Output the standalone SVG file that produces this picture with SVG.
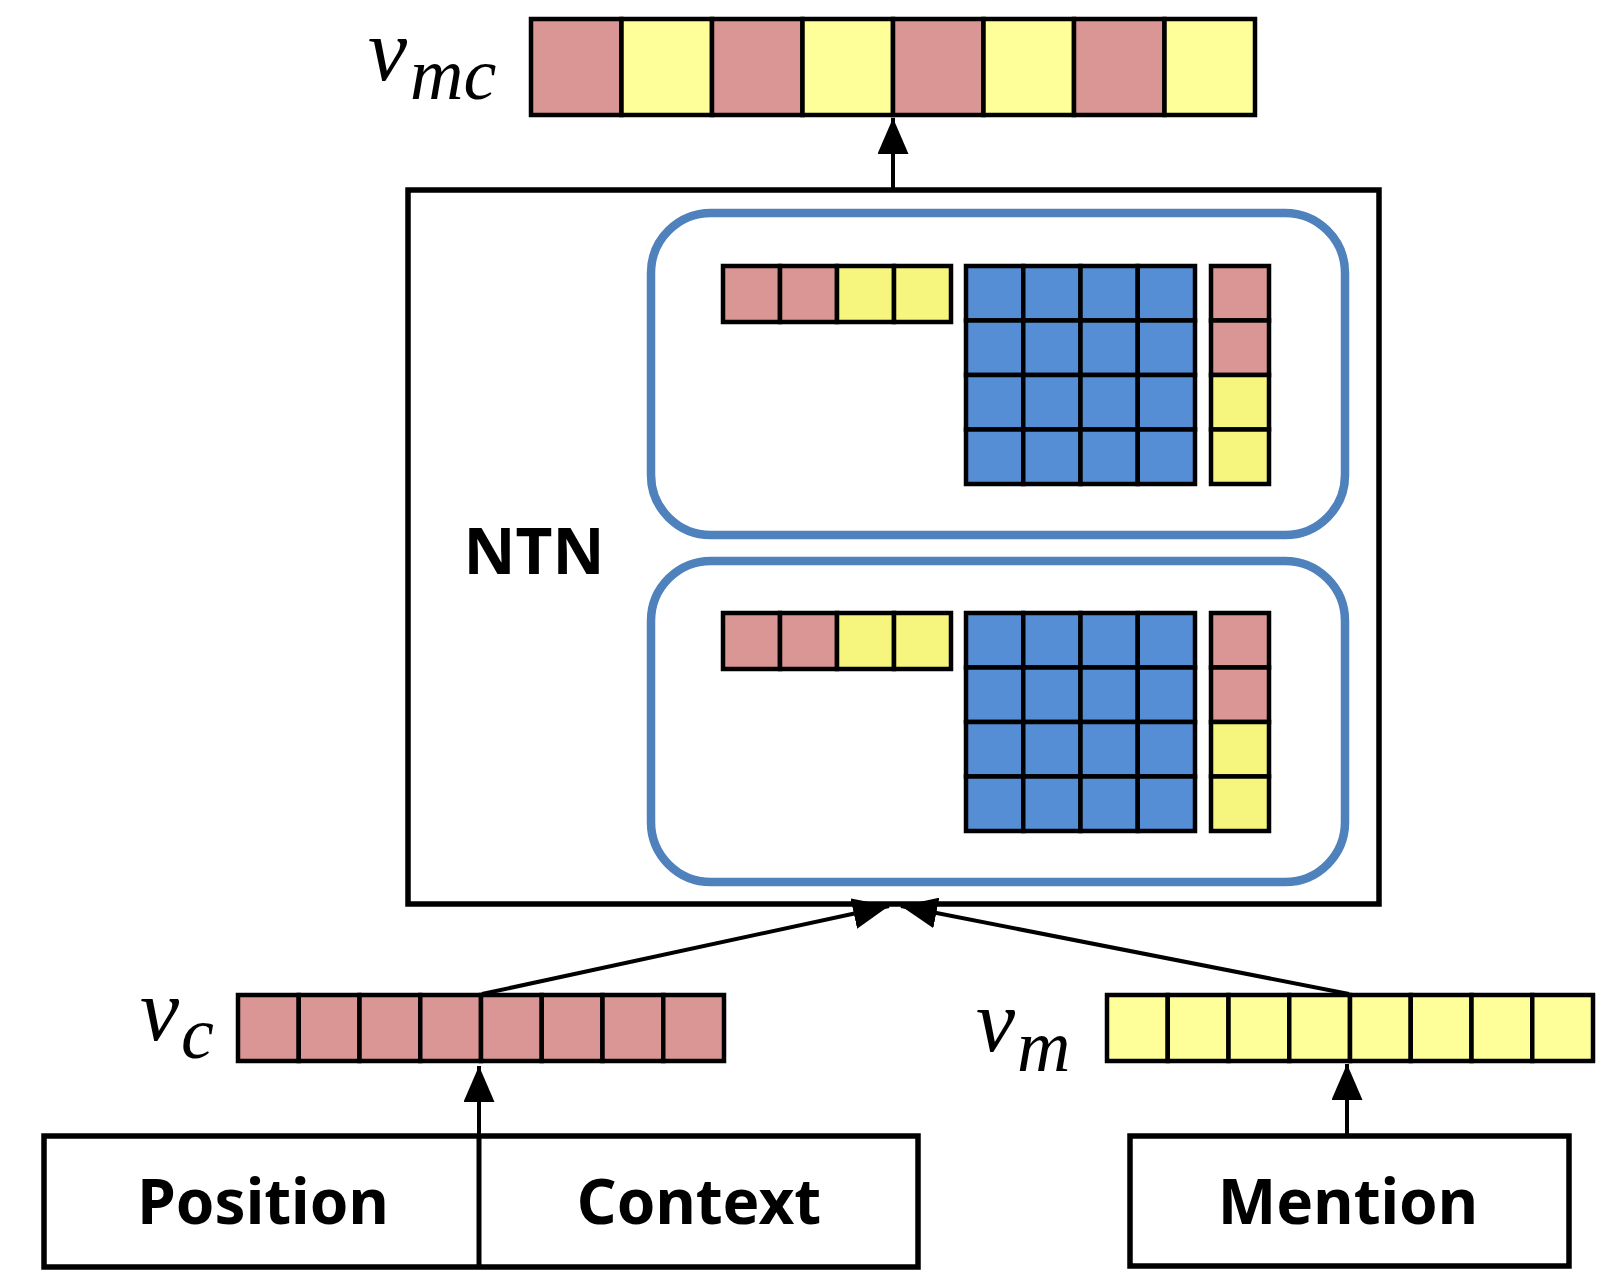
<svg xmlns="http://www.w3.org/2000/svg" width="1600" height="1271" viewBox="0 0 1600 1271">
  <style>
    .pk { fill: #DA9694; stroke: #000; stroke-width: 4.5; }
    .yl { fill: #FFFF99; stroke: #000; stroke-width: 4.5; }
    .yl2 { fill: #F6F57D; stroke: #000; stroke-width: 4.5; }
    .bl { fill: #558ED5; stroke: #000; stroke-width: 4.5; }
    .box { fill: #fff; stroke: #000; stroke-width: 5.5; }
    .group { fill: none; stroke: #4F81BD; stroke-width: 8.5; }
    .lbl { font-family: "Noto Sans", "Liberation Sans", sans-serif; font-weight: 700; fill: #000; text-anchor: middle; }
    .math { font-family: "Liberation Serif", "DejaVu Serif", serif; font-style: italic; fill: #000; }
    .edge { fill: none; stroke: #000; stroke-width: 4; }
  </style>
  <defs>
    <marker id="head" viewBox="0 0 10 10" refX="10" refY="5" markerUnits="userSpaceOnUse" markerWidth="36" markerHeight="31" preserveAspectRatio="none" orient="auto">
      <path d="M0,0 L10,5 L0,10 z" fill="#000"/>
    </marker>
    <!-- one sub-block: 4-cell row vector, 4x4 tensor slice, 4-cell column vector -->
    <g id="slice">
      <rect class="pk" x="723" y="0" width="57" height="56"/>
      <rect class="pk" x="780" y="0" width="57" height="56"/>
      <rect class="yl2" x="837" y="0" width="57" height="56"/>
      <rect class="yl2" x="894" y="0" width="57" height="56"/>
      <g class="bl">
        <rect x="966" y="0" width="57.25" height="54.5"/>
        <rect x="1023.25" y="0" width="57.25" height="54.5"/>
        <rect x="1080.5" y="0" width="57.25" height="54.5"/>
        <rect x="1137.75" y="0" width="57.25" height="54.5"/>
        <rect x="966" y="54.5" width="57.25" height="54.5"/>
        <rect x="1023.25" y="54.5" width="57.25" height="54.5"/>
        <rect x="1080.5" y="54.5" width="57.25" height="54.5"/>
        <rect x="1137.75" y="54.5" width="57.25" height="54.5"/>
        <rect x="966" y="109" width="57.25" height="54.5"/>
        <rect x="1023.25" y="109" width="57.25" height="54.5"/>
        <rect x="1080.5" y="109" width="57.25" height="54.5"/>
        <rect x="1137.75" y="109" width="57.25" height="54.5"/>
        <rect x="966" y="163.5" width="57.25" height="54.5"/>
        <rect x="1023.25" y="163.5" width="57.25" height="54.5"/>
        <rect x="1080.5" y="163.5" width="57.25" height="54.5"/>
        <rect x="1137.75" y="163.5" width="57.25" height="54.5"/>
      </g>
      <rect class="pk" x="1211" y="0" width="58" height="54.5"/>
      <rect class="pk" x="1211" y="54.5" width="58" height="54.5"/>
      <rect class="yl2" x="1211" y="109" width="58" height="54.5"/>
      <rect class="yl2" x="1211" y="163.5" width="58" height="54.5"/>
    </g>
  </defs>

  <rect width="1600" height="1271" fill="#fff"/>

  <!-- output vector v_mc -->
  <g id="v-mc">
    <rect class="pk" x="531" y="19" width="90.5" height="96"/>
    <rect class="yl" x="621.5" y="19" width="90.5" height="96"/>
    <rect class="pk" x="712" y="19" width="90.5" height="96"/>
    <rect class="yl" x="802.5" y="19" width="90.5" height="96"/>
    <rect class="pk" x="893" y="19" width="90.5" height="96"/>
    <rect class="yl" x="983.5" y="19" width="90.5" height="96"/>
    <rect class="pk" x="1074" y="19" width="90.5" height="96"/>
    <rect class="yl" x="1164.5" y="19" width="90.5" height="96"/>
    <text class="math" x="368" y="80" font-size="88">v<tspan font-size="74" dx="3" dy="19">mc</tspan></text>
  </g>

  <!-- NTN layer -->
  <g id="ntn">
    <rect class="box" x="408" y="190" width="971" height="714"/>
    <text class="lbl" x="534" y="574" font-size="64">NTN</text>
    <rect class="group" x="651" y="213" width="694" height="322" rx="60"/>
    <rect class="group" x="651" y="561" width="694" height="321" rx="60"/>
    <use href="#slice" y="266"/>
    <use href="#slice" y="613"/>
  </g>

  <!-- context vector v_c -->
  <g id="v-c">
    <rect class="pk" x="238" y="995" width="60.75" height="66"/>
    <rect class="pk" x="298.75" y="995" width="60.75" height="66"/>
    <rect class="pk" x="359.5" y="995" width="60.75" height="66"/>
    <rect class="pk" x="420.25" y="995" width="60.75" height="66"/>
    <rect class="pk" x="481" y="995" width="60.75" height="66"/>
    <rect class="pk" x="541.75" y="995" width="60.75" height="66"/>
    <rect class="pk" x="602.5" y="995" width="60.75" height="66"/>
    <rect class="pk" x="663.25" y="995" width="60.75" height="66"/>
    <text class="math" x="140" y="1040" font-size="88">v<tspan font-size="74" dx="2" dy="18">c</tspan></text>
  </g>

  <!-- mention vector v_m -->
  <g id="v-m">
    <rect class="yl" x="1107" y="995" width="60.75" height="66"/>
    <rect class="yl" x="1167.75" y="995" width="60.75" height="66"/>
    <rect class="yl" x="1228.5" y="995" width="60.75" height="66"/>
    <rect class="yl" x="1289.25" y="995" width="60.75" height="66"/>
    <rect class="yl" x="1350" y="995" width="60.75" height="66"/>
    <rect class="yl" x="1410.75" y="995" width="60.75" height="66"/>
    <rect class="yl" x="1471.5" y="995" width="60.75" height="66"/>
    <rect class="yl" x="1532.25" y="995" width="60.75" height="66"/>
    <text class="math" x="976" y="1051" font-size="88">v<tspan font-size="74" dx="2" dy="20">m</tspan></text>
  </g>

  <!-- position / context inputs -->
  <g id="pos-ctx">
    <rect class="box" x="44" y="1136" width="874" height="131"/>
    <line x1="479" y1="1136" x2="479" y2="1267" stroke="#000" stroke-width="5"/>
    <text class="lbl" x="263" y="1224" font-size="62">Position</text>
    <text class="lbl" x="699" y="1224" font-size="62">Context</text>
  </g>

  <!-- mention input -->
  <g id="mention">
    <rect class="box" x="1130" y="1136" width="439" height="130"/>
    <text class="lbl" x="1348" y="1224" font-size="62">Mention</text>
  </g>

  <!-- connectors -->
  <g id="connectors">
    <line class="edge" x1="893" y1="190" x2="893" y2="118" marker-end="url(#head)"/>
    <line class="edge" x1="482" y1="994" x2="889" y2="906" marker-end="url(#head)"/>
    <line class="edge" x1="1349" y1="994" x2="901" y2="906" marker-end="url(#head)"/>
    <line class="edge" x1="479" y1="1136" x2="479" y2="1066" marker-end="url(#head)"/>
    <line class="edge" x1="1347" y1="1136" x2="1347" y2="1064" marker-end="url(#head)"/>
  </g>
</svg>
